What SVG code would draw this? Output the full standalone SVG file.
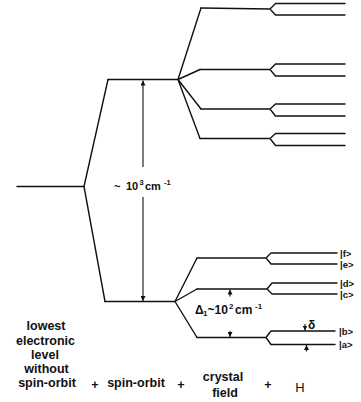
<svg xmlns="http://www.w3.org/2000/svg" width="361" height="402" viewBox="0 0 361 402">
<style>
.l{stroke:#111;stroke-width:1.4;fill:none;stroke-linecap:round;stroke-linejoin:round}
.a{stroke:#111;stroke-width:1.1;fill:none}
.t{font-family:"Liberation Sans",Arial,sans-serif;font-weight:bold;fill:#111}
.b{font-size:12.5px;text-anchor:middle}
.k{font-size:9.5px}
</style>
<defs>
<marker id="ah" viewBox="0 0 6 6" refX="6" refY="3" markerWidth="5" markerHeight="5" markerUnits="userSpaceOnUse" orient="auto">
<path d="M0,0 L6,3 L0,6 z" fill="#111"/>
</marker>
</defs>
<rect width="361" height="402" fill="#fff"/>
<g id="ground"><path class="l" d="M17,186.5 H84"/></g>
<g id="so-upper"><path class="l" d="M108,79.5 H178"/></g>
<g id="so-lower"><path class="l" d="M105,301.5 H175"/></g>
<g id="cf1"><path class="l" d="M201,8 L270,9 L275.5,3.5 H345 M270,9 L275.5,15 H345"/></g>
<g id="cf2"><path class="l" d="M200,69.5 H270 L275.5,64 H345 M270,69.5 L275.5,76 H345"/></g>
<g id="cf3"><path class="l" d="M201,109 H270 L275.5,104 H345 M270,109 L275.5,116 H345"/></g>
<g id="cf4"><path class="l" d="M200,138.5 H270 L275.5,133.5 H345 M270,138.5 L275.5,145.5 H345"/></g>
<g id="cf5"><path class="l" d="M197,258 H266 L271,253 H337 M266,258 L271,264 H337"/>
<text class="t k" x="340" y="256.5">|f&gt;</text><text class="t k" x="340" y="267.5">|e&gt;</text></g>
<g id="cf6"><path class="l" d="M197,289 H267 L272,283 H337 M267,289 L272,294 H337"/>
<text class="t k" x="340" y="286.5">|d&gt;</text><text class="t k" x="340" y="297.5">|c&gt;</text></g>
<g id="cf7"><path class="l" d="M197,337.5 H266 L271,331 H335 M266,337.5 L271,344.5 H335"/>
<text class="t k" x="339" y="334.5">|b&gt;</text><text class="t k" x="339" y="348">|a&gt;</text></g>
<g id="connectors">
<path class="l" d="M84,186.5 L108,79.5 M84,186.5 L105,301.5"/>
<path class="l" d="M178,79.5 L201,8 M178,79.5 L200,69.5 M178,79.5 L201,109 M178,79.5 L200,138.5"/>
<path class="l" d="M175,301.5 L197,258 M175,301.5 L197,289 M175,301.5 L197,337.5"/>
<path class="a" d="M143,167 V80.5" marker-end="url(#ah)"/>
<path class="a" d="M143,197 V301" marker-end="url(#ah)"/>
<path class="a" d="M230,296.5 V289.5" marker-end="url(#ah)"/>
<path class="a" d="M230,331 V337" marker-end="url(#ah)"/>
<path class="a" d="M305,324 V330.5" marker-end="url(#ah)"/>
<path class="a" d="M306.5,351.5 V345" marker-end="url(#ah)"/>
</g>
<g id="labels">
<text class="t" style="font-size:11px" x="114" y="189.5">~<tspan x="126">10</tspan><tspan x="139.5" y="185" style="font-size:7.5px">3</tspan><tspan x="145" y="189.5">cm</tspan><tspan x="164" y="185" style="font-size:7.5px">-1</tspan></text>
<text class="t" style="font-size:12px" x="195" y="314">Δ<tspan x="203" y="316" style="font-size:8px">1</tspan><tspan x="207.5" y="314">~10</tspan><tspan x="229" y="309" style="font-size:8px">2</tspan><tspan x="235" y="314">cm</tspan><tspan x="255" y="309" style="font-size:8px">-1</tspan></text>
<text class="t" style="font-size:12px" x="308" y="328.5">δ</text>
<text class="t b" x="46" y="330">lowest</text>
<text class="t b" x="45.5" y="345">electronic</text>
<text class="t b" x="45" y="359">level</text>
<text class="t b" x="46.5" y="373">without</text>
<text class="t b" x="47" y="387">spin-orbit</text>
<text class="t b" x="95" y="389">+</text>
<text class="t b" x="136" y="387">spin-orbit</text>
<text class="t b" x="181" y="389">+</text>
<text class="t b" x="223" y="381">crystal</text>
<text class="t b" x="225" y="397">field</text>
<text class="t b" x="268" y="389">+</text>
<text class="t b" x="300" y="392" style="font-weight:normal;font-size:13px">H</text>
</g>
</svg>
